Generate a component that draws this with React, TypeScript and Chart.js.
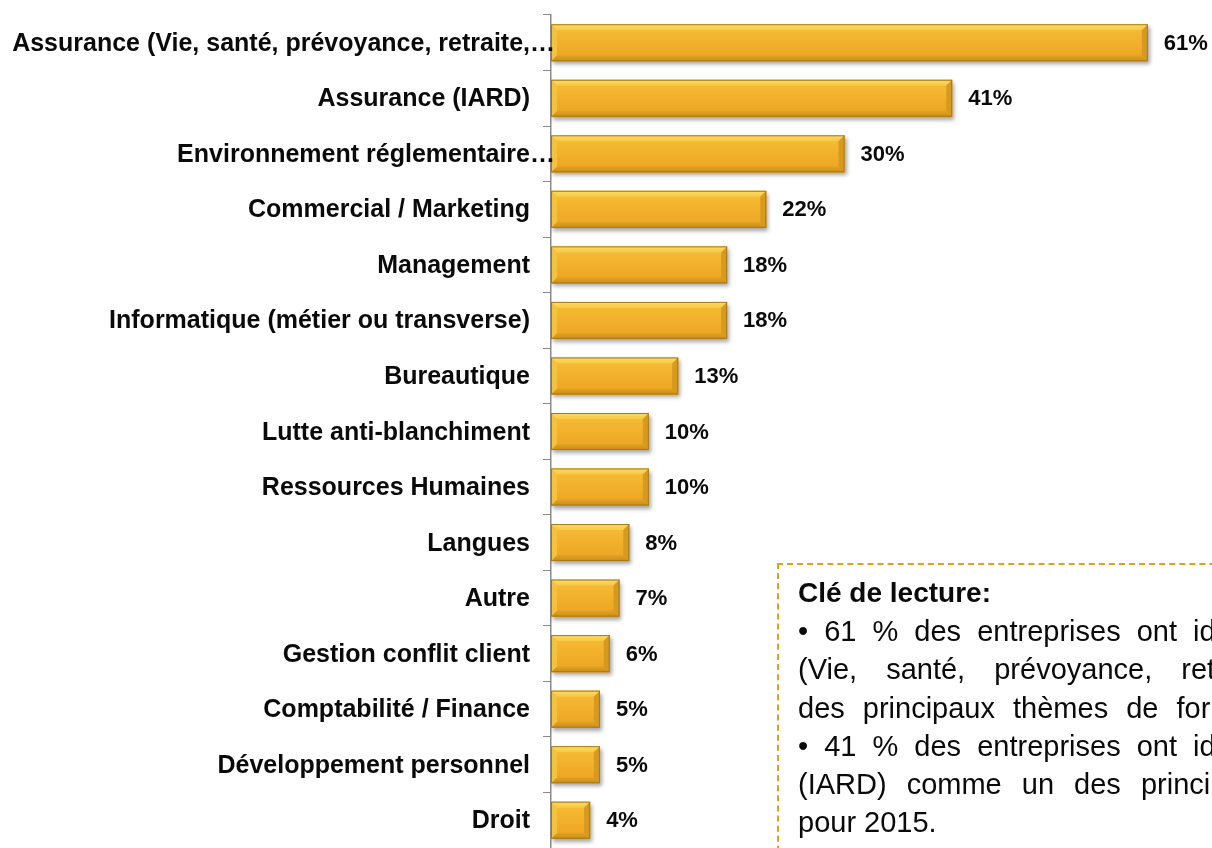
import React, { useEffect, useRef } from "react";
import { Chart, registerables } from "chart.js";

Chart.register(...registerables);

const categories = [
  "Assurance (Vie, santé, prévoyance, retraite,…",
  "Assurance (IARD)",
  "Environnement réglementaire…",
  "Commercial / Marketing",
  "Management",
  "Informatique (métier ou transverse)",
  "Bureautique",
  "Lutte anti-blanchiment",
  "Ressources Humaines",
  "Langues",
  "Autre",
  "Gestion conflit client",
  "Comptabilité / Finance",
  "Développement personnel",
  "Droit",
];
const values = [61, 41, 30, 22, 18, 18, 13, 10, 10, 8, 7, 6, 5, 5, 4];
const xMax = 65;

const noteTitle = "Clé de lecture:";
const noteLines = [
  "• 61 % des entreprises ont identifié l'Assurance",
  "(Vie, santé, prévoyance, retraite, ...) comme un",
  "des principaux thèmes de formation pour 2015.",
  "• 41 % des entreprises ont identifié l'Assurance",
  "(IARD) comme un des principaux thèmes de formation",
  "pour 2015.",
];
const noteWordSpacing = [8, 21, 10, 8, 12, 0];

const FONT = "'Liberation Sans', Arial, Helvetica, sans-serif";

const barPlugin = {
  id: "bevelBars",
  beforeDatasetsDraw(chart: any) {
    const ctx = chart.ctx;
    ctx.save();
    ctx.shadowColor = "rgba(0,0,0,0.35)";
    ctx.shadowBlur = 4;
    ctx.shadowOffsetX = 2;
    ctx.shadowOffsetY = 3;
  },
  afterDatasetsDraw(chart: any) {
    const ctx = chart.ctx;
    ctx.restore();
    const meta = chart.getDatasetMeta(0);
    meta.data.forEach((el: any) => {
      const p = el.getProps(["x", "y", "base", "height"], true);
      const l = p.base;
      const r = p.x;
      const t = p.y - p.height / 2;
      const bt = p.y + p.height / 2;
      const b = Math.min(6, (r - l) / 3);
      ctx.save();
      const g = ctx.createLinearGradient(0, t, 0, bt);
      g.addColorStop(0, "#F6BE36");
      g.addColorStop(0.5, "#F2B02B");
      g.addColorStop(1, "#EBA322");
      ctx.fillStyle = g;
      ctx.fillRect(l, t, r - l, bt - t);
      const gt = ctx.createLinearGradient(0, t, 0, t + b);
      gt.addColorStop(0, "#FBDD66");
      gt.addColorStop(1, "#F7C845");
      ctx.fillStyle = gt;
      ctx.beginPath();
      ctx.moveTo(l, t);
      ctx.lineTo(r, t);
      ctx.lineTo(r - b, t + b);
      ctx.lineTo(l + b, t + b);
      ctx.closePath();
      ctx.fill();
      const gb = ctx.createLinearGradient(0, bt - b, 0, bt);
      gb.addColorStop(0, "#E3A422");
      gb.addColorStop(1, "#C88C18");
      ctx.fillStyle = gb;
      ctx.beginPath();
      ctx.moveTo(l, bt);
      ctx.lineTo(r, bt);
      ctx.lineTo(r - b, bt - b);
      ctx.lineTo(l + b, bt - b);
      ctx.closePath();
      ctx.fill();
      ctx.fillStyle = "#F5C23E";
      ctx.beginPath();
      ctx.moveTo(l, t);
      ctx.lineTo(l + b, t + b);
      ctx.lineTo(l + b, bt - b);
      ctx.lineTo(l, bt);
      ctx.closePath();
      ctx.fill();
      ctx.fillStyle = "#D69A20";
      ctx.beginPath();
      ctx.moveTo(r, t);
      ctx.lineTo(r - b, t + b);
      ctx.lineTo(r - b, bt - b);
      ctx.lineTo(r, bt);
      ctx.closePath();
      ctx.fill();
      ctx.strokeStyle = "#A87A1A";
      ctx.lineWidth = 1;
      ctx.strokeRect(l + 0.5, t + 0.5, r - l - 1, bt - t - 1);
      ctx.restore();
    });
  },
};

const labelPlugin = {
  id: "labels",
  afterDraw(chart: any) {
    const ctx = chart.ctx;
    const yScale = chart.scales.y;
    const meta = chart.getDatasetMeta(0);
    ctx.save();
    ctx.fillStyle = "#0a0a0a";
    ctx.textBaseline = "alphabetic";
    ctx.font = `bold 25px ${FONT}`;
    ctx.textAlign = "right";
    categories.forEach((c, i) => {
      const y = yScale.getPixelForValue(i);
      const x = c.endsWith("…") ? chart.chartArea.left + 4 : chart.chartArea.left - 21;
      ctx.fillText(c, x, y + 8);
    });
    ctx.font = `bold 22px ${FONT}`;
    ctx.textAlign = "left";
    meta.data.forEach((el: any, i: number) => {
      const p = el.getProps(["x", "y"], true);
      ctx.fillText(values[i] + "%", p.x + 16, p.y + 7);
    });
    ctx.restore();
  },
};

export default function App() {
  const ref = useRef<HTMLCanvasElement | null>(null);

  useEffect(() => {
    if (!ref.current) return;
    const chart = new Chart(ref.current, {
      type: "bar",
      data: {
        labels: categories,
        datasets: [
          {
            data: values,
            backgroundColor: "#F1AE2A",
            borderWidth: 0,
            barPercentage: 1,
            categoryPercentage: 0.667,
          },
        ],
      },
      options: {
        indexAxis: "y",
        animation: false,
        responsive: false,
        maintainAspectRatio: false,
        events: [],
        layout: { padding: { top: 15, right: 25, bottom: 0, left: 0 } },
        plugins: {
          legend: { display: false },
          tooltip: { enabled: false },
        },
        scales: {
          x: { display: false, min: 0, max: xMax },
          y: {
            offset: true,
            grid: {
              offset: true,
              drawOnChartArea: false,
              tickLength: 8,
              color: "#8a8a8a",
              lineWidth: 1,
            },
            border: { color: "#8a8a8a", width: 1.5 },
            ticks: { display: false },
            afterFit: (s: any) => {
              s.width = 551;
            },
          },
        },
      } as any,
      plugins: [barPlugin, labelPlugin],
    });
    return () => chart.destroy();
  }, []);

  return (
    <div
      style={{
        position: "fixed",
        left: 0,
        top: 0,
        width: 1212,
        height: 848,
        overflow: "hidden",
        background: "#ffffff",
      }}
    >
      <canvas ref={ref} width={1212} height={848} style={{ display: "block" }} />
      <div
        style={{
          position: "absolute",
          left: 777,
          top: 563,
          width: 700,
          height: 400,
          boxSizing: "border-box",
          border: "2px dashed #E2A11B",
          padding: "9px 0 0 19px",
          fontFamily: FONT,
          color: "#0a0a0a",
          fontSize: 29,
          lineHeight: "38.2px",
          whiteSpace: "nowrap",
        }}
      >
        <div style={{ fontWeight: "bold", fontSize: 28 }}>{noteTitle}</div>
        {noteLines.map((t, i) => (
          <div key={i} style={{ wordSpacing: noteWordSpacing[i] }}>
            {t}
          </div>
        ))}
      </div>
    </div>
  );
}
